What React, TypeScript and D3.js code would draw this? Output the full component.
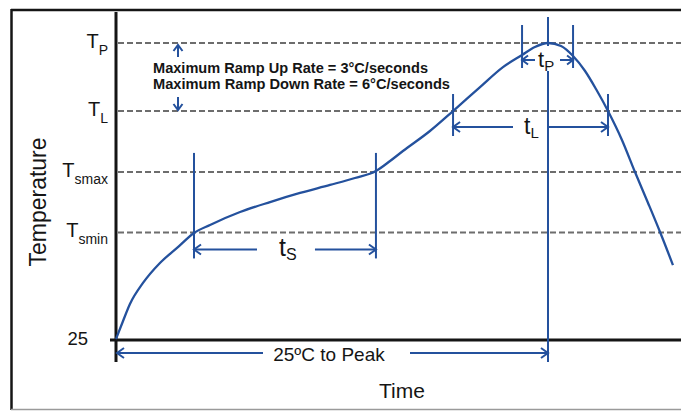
import React from "react";
import * as d3 from "d3";

// Reflow profile curve (time in s, temperature in relative °C units)
const curveTime = [0, 4.7, 9.3, 18, 29.3, 40.7, 52, 62.7, 82.7, 102.7, 122.7, 142.7, 159.3, 173.3, 182.7, 191.3, 209.3, 224.7, 242.7, 258, 270.7, 279.3, 288, 296.7, 304.7, 312.7, 320, 328, 337.3, 346, 354.7, 362.7, 371.3];
const curveTemp = [25, 38.7, 51.6, 67.6, 82.8, 94.2, 105.6, 111.7, 121.5, 129.1, 136, 142.1, 147.4, 152.7, 160.3, 167.9, 183.1, 198.3, 216.5, 231.7, 240.9, 247, 250, 247.7, 240.1, 228.7, 215, 198.3, 176.3, 151.9, 128.4, 106.3, 81.2];

// Temperature levels
const levelMain = ["T", "T", "T", "T"];
const levelSub = ["P", "L", "smax", "smin"];
const levelValues = [250, 198.3, 152, 106];
const ambientTemp = 25;
const ambientLabel = "25";

// Time markers
const soakTimes = [52, 173.3];
const liquidusTimes = [224.7, 328];
const peakWindowTimes = [270.7, 304.7];
const peakTime = 288;

const rampLines = ["Maximum Ramp Up Rate = 3°C/seconds", "Maximum Ramp Down Rate = 6°C/seconds"];
const toPeakLabel = "25ºC to Peak";
const xTitle = "Time";
const yTitle = "Temperature";

const W = 681;
const H = 411;
const BLUE = "#24519d";
const INK = "#151515";
const FONT = "'Liberation Sans', Arial, sans-serif";

const x = d3.scaleLinear().domain([0, 376.67]).range([116, 681]);
const y = d3.scaleLinear().domain([25, 250]).range([339, 43]);

function Arrow({ x1, y1, x2, y2, len = 7, half = 5, color = BLUE, w = 2 }: any) {
  const dx = x2 - x1, dy = y2 - y1;
  const L = Math.hypot(dx, dy) || 1;
  const ux = dx / L, uy = dy / L;
  const px = -uy, py = ux;
  const bx = x2 - ux * len, by = y2 - uy * len;
  const head = `M${bx + px * half},${by + py * half}L${x2},${y2}L${bx - px * half},${by - py * half}`;
  return (
    <g stroke={color} strokeWidth={w} fill="none" strokeLinecap="butt" strokeLinejoin="miter">
      <line x1={x1} y1={y1} x2={x2} y2={y2} />
      <path d={head} />
    </g>
  );
}

export default function App() {
  const pts = curveTime.map((t, i) => [x(t), y(curveTemp[i])] as [number, number]);
  const line = d3.line().curve(d3.curveMonotoneX)(pts) as string;
  const yTP = y(levelValues[0]);
  const yTL = y(levelValues[1]);
  const ySmax = y(levelValues[2]);
  const ySmin = y(levelValues[3]);
  const y0 = y(ambientTemp);
  const axisY = y0 + 1;
  const x0 = x(0);
  const xPeak = x(peakTime);

  return (
    <svg width={W} height={H} style={{ position: "absolute", left: 0, top: 0, background: "#fff" }} fontFamily={FONT}>
      <rect x={0} y={0} width={W} height={H} fill="#fff" />
      {/* outer frame */}
      <line x1={11} y1={10} x2={W} y2={10} stroke={INK} strokeWidth={2.5} />
      <line x1={11.5} y1={9} x2={11.5} y2={410} stroke={INK} strokeWidth={2.5} />
      <line x1={11} y1={409.5} x2={W} y2={409.5} stroke="#9a9a9a" strokeWidth={1.5} />

      {/* dashed level lines */}
      {levelValues.map((v, i) => (
        <line key={i} x1={x0 + 2} x2={W} y1={y(v)} y2={y(v)} stroke="#6d6d6d" strokeWidth={2} strokeDasharray="6,3" />
      ))}

      {/* level labels */}
      {levelValues.map((v, i) => (
        <text key={i} x={108} y={y(v) + 5} textAnchor="end" fill={INK}>
          <tspan fontSize={20}>{levelMain[i]}</tspan>
          <tspan fontSize={14} dy={7}>{levelSub[i]}</tspan>
        </text>
      ))}
      <text x={88} y={y0 + 6} textAnchor="end" fontSize={18.5} fill={INK}>{ambientLabel}</text>

      {/* axes */}
      <line x1={x0} x2={x0} y1={12} y2={362} stroke={INK} strokeWidth={3} />
      <line x1={110} x2={W} y1={axisY} y2={axisY} stroke={INK} strokeWidth={3} />

      {/* soak markers */}
      {soakTimes.map((t, i) => (
        <line key={i} x1={x(t)} x2={x(t)} y1={ySmax - 19} y2={ySmin + 26} stroke={BLUE} strokeWidth={2} />
      ))}
      <Arrow x1={x(soakTimes[0]) + 63} y1={ySmin + 17} x2={x(soakTimes[0])} y2={ySmin + 17} />
      <Arrow x1={x(soakTimes[1]) - 61} y1={ySmin + 17} x2={x(soakTimes[1])} y2={ySmin + 17} />
      <text x={279} y={ySmin + 24} fill={INK}>
        <tspan fontSize={25}>t</tspan>
        <tspan fontSize={16} dy={4}>S</tspan>
      </text>

      {/* liquidus markers */}
      {liquidusTimes.map((t, i) => (
        <line key={i} x1={x(t)} x2={x(t)} y1={yTL - 17} y2={yTL + 25} stroke={BLUE} strokeWidth={2} />
      ))}
      <Arrow x1={513} y1={yTL + 16} x2={x(liquidusTimes[0])} y2={yTL + 16} />
      <Arrow x1={xPeak + 1} y1={yTL + 16} x2={x(liquidusTimes[1])} y2={yTL + 16} />
      <text x={524} y={yTL + 23} fill={INK}>
        <tspan fontSize={23}>t</tspan>
        <tspan fontSize={15} dy={4}>L</tspan>
      </text>

      {/* peak window markers */}
      {peakWindowTimes.map((t, i) => (
        <line key={i} x1={x(t)} x2={x(t)} y1={yTP - 18} y2={yTP + 25} stroke={BLUE} strokeWidth={2} />
      ))}
      <Arrow x1={535} y1={yTP + 17} x2={x(peakWindowTimes[0])} y2={yTP + 17} len={6} half={4.5} />
      <Arrow x1={560} y1={yTP + 17} x2={x(peakWindowTimes[1])} y2={yTP + 17} len={6} half={4.5} />
      <text x={538} y={yTP + 24} fill={INK}>
        <tspan fontSize={22}>t</tspan>
        <tspan fontSize={15} dy={4}>P</tspan>
      </text>

      {/* peak vertical */}
      <line x1={xPeak} x2={xPeak} y1={17} y2={yTP + 3} stroke={BLUE} strokeWidth={2} />
      <line x1={xPeak} x2={xPeak} y1={yTP + 28} y2={362} stroke={BLUE} strokeWidth={2} />

      {/* profile curve */}
      <path d={line} fill="none" stroke={BLUE} strokeWidth={2.3} />

      {/* ramp rate annotation */}
      <Arrow x1={178} y1={yTP + 14} x2={178} y2={yTP + 2} len={6} half={4.5} />
      <Arrow x1={178} y1={yTL - 14} x2={178} y2={yTL - 1} len={6} half={4.5} />
      <text x={153} y={73} fontSize={15.5} fontWeight="bold" fill={INK} textLength={275} lengthAdjust="spacingAndGlyphs">{rampLines[0]}</text>
      <text x={153} y={89} fontSize={15.5} fontWeight="bold" fill={INK} textLength={297} lengthAdjust="spacingAndGlyphs">{rampLines[1]}</text>

      {/* 25C to peak */}
      <Arrow x1={263} y1={353} x2={x0 + 1} y2={353} />
      <Arrow x1={410} y1={353} x2={xPeak} y2={353} />
      <text x={329} y={361} textAnchor="middle" fontSize={19} fill={INK}>{toPeakLabel}</text>

      {/* axis titles */}
      <text x={402} y={398} textAnchor="middle" fontSize={21} fill={INK}>{xTitle}</text>
      <text transform="translate(46,202) rotate(-90)" textAnchor="middle" fontSize={23} fill={INK}>{yTitle}</text>
    </svg>
  );
}
